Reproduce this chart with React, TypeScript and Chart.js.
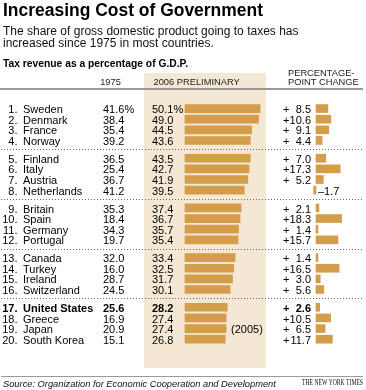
import React, { useEffect, useRef } from 'react';
import { Chart, registerables } from 'chart.js';

Chart.register(...registerables);

// ---------- data ----------
const countries = [
  'Sweden', 'Denmark', 'France', 'Norway',
  'Finland', 'Italy', 'Austria', 'Netherlands',
  'Britain', 'Spain', 'Germany', 'Portugal',
  'Canada', 'Turkey', 'Ireland', 'Switzerland',
  'United States', 'Greece', 'Japan', 'South Korea',
];
const tax1975 = [
  41.6, 38.4, 35.4, 39.2,
  36.5, 25.4, 36.7, 41.2,
  35.3, 18.4, 34.3, 19.7,
  32.0, 16.0, 28.7, 24.5,
  25.6, 16.9, 20.9, 15.1,
];
const tax2006 = [
  50.1, 49.0, 44.5, 43.6,
  43.5, 42.7, 41.9, 39.5,
  37.4, 36.7, 35.7, 35.4,
  33.4, 32.5, 31.7, 30.1,
  28.2, 27.4, 27.4, 26.8,
];
const pointChange = [
  8.5, 10.6, 9.1, 4.4,
  7.0, 17.3, 5.2, -1.7,
  2.1, 18.3, 1.4, 15.7,
  1.4, 16.5, 3.0, 5.6,
  2.6, 10.5, 6.5, 11.7,
];
const notes2006 = [
  '', '', '', '', '', '', '', '', '', '',
  '', '', '', '', '', '', '', '', '(2005)', '',
];
const highlightIndex = 16; // United States
const groupSize = 4;

const TITLE = 'Increasing Cost of Government';
const SUBTITLE = [
  'The share of gross domestic product going to taxes has',
  'increased since 1975 in most countries.',
];
const SECTION = 'Tax revenue as a percentage of G.D.P.';
const HEAD_1975 = '1975';
const HEAD_2006 = '2006 PRELIMINARY';
const HEAD_CHANGE = ['PERCENTAGE-', 'POINT CHANGE'];
const SOURCE = 'Source: Organization for Economic Cooperation and Development';
const CREDIT = 'THE NEW YORK TIMES';

// ---------- layout ----------
const W = 366;
const H = 390;
const ROW_PX = 12.16;
const FIRST_ROW_Y = 96.2;
const GAP_ROWS = 8.14 / ROW_PX;
const BAR_ZERO_X = 185;
const BAR_PX_PER_UNIT = 1.5;
const CHG_ZERO_X = 316;
const CHG_PX_PER_UNIT = 1.4;

const BAR_COLOR = '#d49d4c';
const BEIGE = '#f4e8d4';
const SANS = '"Liberation Sans", Arial, Helvetica, sans-serif';
const SERIF = '"Liberation Serif", "Times New Roman", serif';

const rowPos = (i: number) => i + Math.floor(i / groupSize) * GAP_ROWS;

const yMin = -FIRST_ROW_Y / ROW_PX;
const yMax = yMin + H / ROW_PX;
const xMin = -BAR_ZERO_X / BAR_PX_PER_UNIT;
const xMax = xMin + W / BAR_PX_PER_UNIT;
const x2Min = -CHG_ZERO_X / CHG_PX_PER_UNIT;
const x2Max = x2Min + W / CHG_PX_PER_UNIT;

const tablePlugin = {
  id: 'tableDecor',
  beforeDatasetsDraw(chart: any) {
    const ctx = chart.ctx as CanvasRenderingContext2D;
    const y = chart.scales.y;
    ctx.save();
    // beige band behind 2006 column
    ctx.fillStyle = BEIGE;
    ctx.fillRect(144, 73, 122, 295);
    // header rule
    ctx.fillStyle = '#9a9a9a';
    ctx.fillRect(0, 88, 363, 2);
    // dotted separators between groups
    ctx.strokeStyle = '#666';
    ctx.lineWidth = 1;
    ctx.setLineDash([1, 2]);
    for (let i = groupSize; i < countries.length; i += groupSize) {
      const py =
        Math.round((y.getPixelForValue(rowPos(i - 1)) + y.getPixelForValue(rowPos(i))) / 2) + 0.5;
      ctx.beginPath();
      ctx.moveTo(1, py);
      ctx.lineTo(364, py);
      ctx.stroke();
    }
    ctx.setLineDash([]);
    // source rule
    ctx.fillStyle = '#9a9a9a';
    ctx.fillRect(1, 376, 362, 1);
    ctx.restore();
  },
  afterDatasetsDraw(chart: any) {
    const ctx = chart.ctx as CanvasRenderingContext2D;
    const y = chart.scales.y;
    ctx.save();
    ctx.textBaseline = 'alphabetic';
    ctx.fillStyle = '#000';

    // title
    ctx.font = `bold 17.6px ${SANS}`;
    ctx.textAlign = 'left';
    ctx.fillText(TITLE, 3, 15.5, 260);
    // subtitle
    ctx.font = `12px ${SANS}`;
    ctx.fillStyle = '#111';
    ctx.fillText(SUBTITLE[0], 3, 35);
    ctx.fillText(SUBTITLE[1], 3, 47);
    // section label
    ctx.fillStyle = '#000';
    ctx.font = `bold 10.5px ${SANS}`;
    ctx.fillText(SECTION, 3, 67, 185);
    // column headers
    ctx.fillStyle = '#222';
    ctx.font = `9.3px ${SANS}`;
    ctx.textAlign = 'center';
    ctx.fillText(HEAD_1975, 110.5, 84.5);
    ctx.textAlign = 'left';
    ctx.fillText(HEAD_2006, 153.5, 84.5);
    ctx.fillText(HEAD_CHANGE[0], 288, 75.5);
    ctx.fillText(HEAD_CHANGE[1], 288, 84.5);

    // rows
    for (let i = 0; i < countries.length; i++) {
      const cy = y.getPixelForValue(rowPos(i));
      const base = cy + 4.6;
      const bold = i === highlightIndex;
      ctx.font = `${bold ? 'bold ' : ''}11px ${SANS}`;
      ctx.fillStyle = '#000';
      ctx.textAlign = 'right';
      ctx.fillText(`${i + 1}.`, 17.5, base);
      ctx.textAlign = 'left';
      ctx.fillText(countries[i], 23, base);
      ctx.fillText(tax1975[i].toFixed(1) + (i === 0 ? '%' : ''), 103, base);
      ctx.fillText(tax2006[i].toFixed(1) + (i === 0 ? '%' : ''), 152, base);
      if (notes2006[i]) {
        ctx.font = `11px ${SANS}`;
        ctx.fillText(notes2006[i], 231, base);
        ctx.font = `${bold ? 'bold ' : ''}11px ${SANS}`;
      }
      const c = pointChange[i];
      if (c >= 0) {
        ctx.textAlign = 'left';
        ctx.fillText('+', 283, base);
        ctx.textAlign = 'right';
        ctx.fillText(c.toFixed(1), 311, base);
      } else {
        ctx.textAlign = 'left';
        ctx.fillText('\u2013' + Math.abs(c).toFixed(1), 318, base);
      }
    }

    // source and credit
    ctx.textAlign = 'left';
    ctx.fillStyle = '#111';
    ctx.font = `italic 9.3px ${SANS}`;
    ctx.fillText(SOURCE, 3, 387);
    ctx.textAlign = 'right';
    ctx.font = `7.5px ${SERIF}`;
    ctx.fillText(CREDIT, 363, 385, 61);
    ctx.restore();
  },
};

export default function App() {
  const canvasRef = useRef<HTMLCanvasElement | null>(null);

  useEffect(() => {
    const canvas = canvasRef.current;
    if (!canvas) return;
    const chart = new Chart(canvas, {
      type: 'bar',
      data: {
        datasets: [
          {
            label: '2006',
            data: tax2006.map((v, i) => ({ x: v, y: rowPos(i) })),
            xAxisID: 'x',
            yAxisID: 'y',
            backgroundColor: BAR_COLOR,
            borderWidth: 0,
            barThickness: 8,
            grouped: false,
          } as any,
          {
            label: 'Change',
            data: pointChange.map((v, i) => ({ x: v, y: rowPos(i) })),
            xAxisID: 'x2',
            yAxisID: 'y',
            backgroundColor: BAR_COLOR,
            borderWidth: 0,
            barThickness: 8,
            grouped: false,
          } as any,
        ],
      },
      options: {
        animation: false,
        responsive: true,
        maintainAspectRatio: false,
        indexAxis: 'y',
        events: [],
        layout: { padding: 0 },
        plugins: {
          legend: { display: false },
          tooltip: { enabled: false },
          title: { display: false },
        },
        scales: {
          y: { type: 'linear', display: false, reverse: true, bounds: 'data', min: yMin, max: yMax },
          x: { type: 'linear', axis: 'x', display: false, bounds: 'data', min: xMin, max: xMax },
          x2: { type: 'linear', axis: 'x', display: false, bounds: 'data', min: x2Min, max: x2Max },
        } as any,
      },
      plugins: [tablePlugin],
    });
    return () => chart.destroy();
  }, []);

  return (
    <div style={{ position: 'absolute', left: 0, top: 0, width: W, height: H, background: '#fff' }}>
      <canvas ref={canvasRef} />
    </div>
  );
}
